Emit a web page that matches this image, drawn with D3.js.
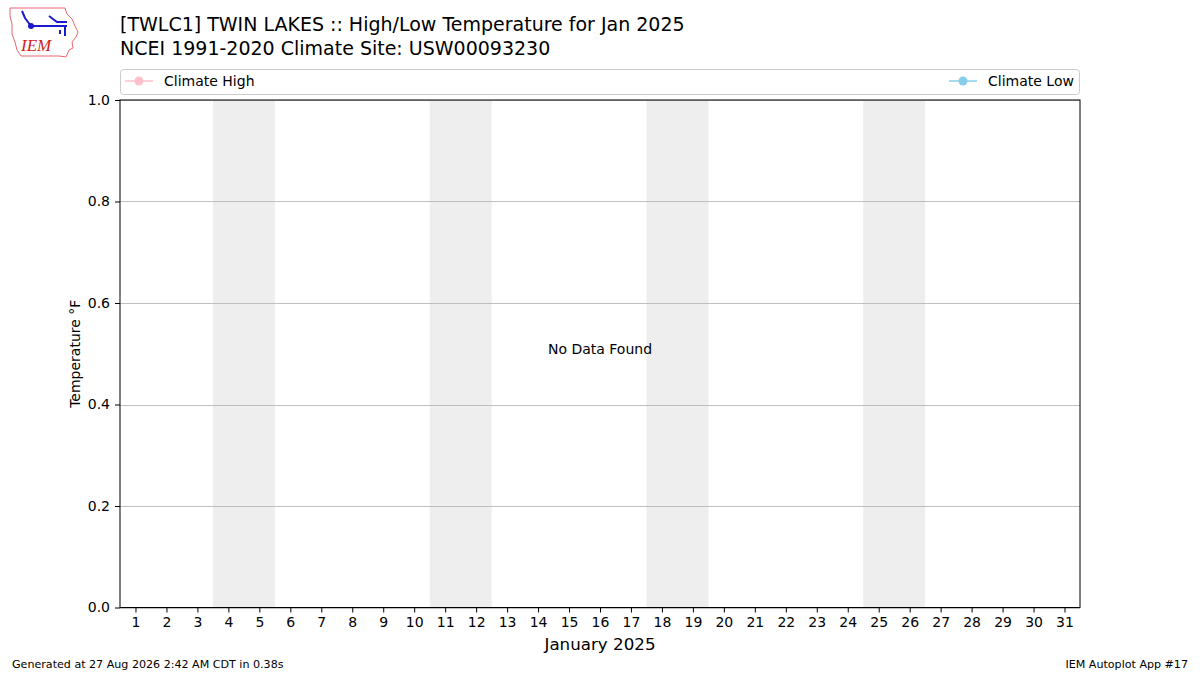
<!DOCTYPE html>
<html>
<head>
<meta charset="utf-8">
<script src="https://cdn.jsdelivr.net/npm/d3@7"></script>
<style>
  body { margin: 0; background: #fff; }
  svg { font-family: "DejaVu Sans", sans-serif; }
</style>
</head>
<body>
<div id="chart"></div>
<script>
// Chart data
const days = d3.range(1, 32);
const weekendStarts = [4, 11, 18, 25];
const yTicks = [0.0, 0.2, 0.4, 0.6, 0.8, 1.0];
const titleLines = [
  "[TWLC1] TWIN LAKES :: High/Low Temperature for Jan 2025",
  "NCEI 1991-2020 Climate Site: USW00093230"
];
const legendItems = [
  { name: "Climate High", color: "#ffc0cb" },
  { name: "Climate Low", color: "#87ceeb" }
];

const width = 1200, height = 675;
const margin = { left: 120, right: 120, top: 100, bottom: 68 };

const svg = d3.select('#chart').append('svg')
  .attr('width', width)
  .attr('height', height);

const x = d3.scaleLinear().domain([0.5, 31.5]).range([margin.left, width - margin.right]);
const y = d3.scaleLinear().domain([0, 1]).range([height - margin.bottom + 0.5, margin.top]);

// Weekend shading
svg.selectAll('rect.weekend')
  .data(weekendStarts)
  .join('rect')
  .attr('class', 'weekend')
  .attr('x', d => x(d - 0.5))
  .attr('y', y(1))
  .attr('width', d => x(d + 1.5) - x(d - 0.5))
  .attr('height', y(0) - y(1))
  .attr('fill', '#eeeeee');

// Grid lines
svg.selectAll('line.grid')
  .data(yTicks)
  .join('line')
  .attr('class', 'grid')
  .attr('x1', x.range()[0])
  .attr('x2', x.range()[1])
  .attr('y1', d => Math.round(y(d)) + 0.5)
  .attr('y2', d => Math.round(y(d)) + 0.5)
  .attr('stroke', '#b0b0b0')
  .attr('stroke-width', 0.8);

// Axes
const xAxis = svg.append('g')
  .attr('transform', `translate(0,${y(0)})`)
  .call(d3.axisBottom(x).tickValues(days).tickSize(5).tickPadding(5).tickSizeOuter(0));
const yAxis = svg.append('g')
  .attr('transform', `translate(${x.range()[0]},0)`)
  .call(d3.axisLeft(y).tickValues(yTicks).tickFormat(d3.format('.1f')).tickSize(5).tickPadding(5).tickSizeOuter(0));
[xAxis, yAxis].forEach(a => {
  a.select('.domain').remove();
  a.selectAll('text').attr('font-size', 14).attr('fill', '#000').attr('font-family', '"DejaVu Sans", sans-serif');
  a.selectAll('line').attr('stroke', '#000');
});

// Frame
svg.append('rect')
  .attr('x', x.range()[0])
  .attr('y', y(1))
  .attr('width', x.range()[1] - x.range()[0])
  .attr('height', y(0) - y(1))
  .attr('fill', 'none')
  .attr('stroke', '#000')
  .attr('stroke-width', 1);

// Axis labels
svg.append('text')
  .attr('x', (x.range()[0] + x.range()[1]) / 2)
  .attr('y', 650)
  .attr('text-anchor', 'middle')
  .attr('font-size', 16.7)
  .text('January 2025');
svg.append('text')
  .attr('transform', `translate(80,${(y(0) + y(1)) / 2}) rotate(-90)`)
  .attr('text-anchor', 'middle')
  .attr('font-size', 14)
  .text('Temperature °F');

// No data message
svg.append('text')
  .attr('x', (x.range()[0] + x.range()[1]) / 2)
  .attr('y', y(0.5) + 0.5)
  .attr('text-anchor', 'middle')
  .attr('font-size', 14)
  .text('No Data Found');

// Title
svg.selectAll('text.title')
  .data(titleLines)
  .join('text')
  .attr('class', 'title')
  .attr('x', 120)
  .attr('y', (d, i) => 31 + i * 24)
  .attr('font-size', 19)
  .text(d => d);

// Legend
const legend = svg.append('g');
legend.append('rect')
  .attr('x', 120.5).attr('y', 69.5)
  .attr('width', 959).attr('height', 25)
  .attr('rx', 3)
  .attr('fill', '#fff')
  .attr('stroke', '#cccccc');
legendItems.forEach((item, i) => {
  const g = legend.append('g');
  const lx = i === 0 ? 125 : 949;
  g.append('line')
    .attr('x1', lx).attr('x2', lx + 28)
    .attr('y1', 81).attr('y2', 81)
    .attr('stroke', item.color).attr('stroke-width', 1.5);
  g.append('circle')
    .attr('cx', lx + 14).attr('cy', 81).attr('r', 4.5)
    .attr('fill', item.color);
  g.append('text')
    .attr('x', lx + 39).attr('y', 86)
    .attr('font-size', 14)
    .text(item.name);
});

// Footer
svg.append('text')
  .attr('x', 12).attr('y', 668)
  .attr('font-size', 11.1)
  .text('Generated at 27 Aug 2026 2:42 AM CDT in 0.38s');
svg.append('text')
  .attr('x', 1188).attr('y', 668)
  .attr('text-anchor', 'end')
  .attr('font-size', 11.1)
  .text('IEM Autoplot App #17');

// Logo (rough Iowa outline with IEM mark)
const logo = svg.append('g').attr('transform', 'translate(9,6)');
logo.append('path')
  .attr('d', 'M1,2 L56,2 L58,8 L63,13 L66,20 L69,26 L67,31 L63,36 L64,42 L60,44 L57,51 L50,50 L12,50 L8,44 L6,36 L3,28 L3,18 L1,10 Z')
  .attr('fill', 'none')
  .attr('stroke', '#e8686e')
  .attr('stroke-width', 1);
logo.append('path')
  .attr('d', 'M13,5 L16,12 L22,20 M22,20 L58,20 M40,10 L48,16 L58,16 M56,20 L56,30 M51,24 L51,28')
  .attr('fill', 'none')
  .attr('stroke', '#1a1acc')
  .attr('stroke-width', 2);
logo.append('circle').attr('cx', 22).attr('cy', 20).attr('r', 3).attr('fill', '#1a1acc');
logo.append('text')
  .attr('x', 12).attr('y', 45)
  .attr('font-family', '"Liberation Serif", serif')
  .attr('font-style', 'italic')
  .attr('font-size', 17)
  .attr('fill', '#d42020')
  .text('IEM');
</script>
</body>
</html>
